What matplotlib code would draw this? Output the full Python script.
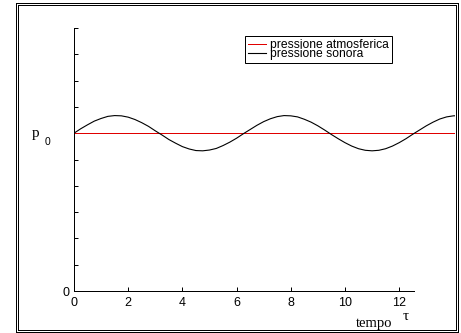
import matplotlib
matplotlib.use("Agg")
import matplotlib.pyplot as plt
from matplotlib.patches import Rectangle

# tempo (x) and sound pressure, step 0.25
tempo = [0.0, 0.25, 0.5, 0.75, 1.0, 1.25, 1.5, 1.75, 2.0, 2.25, 2.5, 2.75,
         3.0, 3.25, 3.5, 3.75, 4.0, 4.25, 4.5, 4.75, 5.0, 5.25, 5.5, 5.75,
         6.0, 6.25, 6.5, 6.75, 7.0, 7.25, 7.5, 7.75, 8.0, 8.25, 8.5, 8.75,
         9.0, 9.25, 9.5, 9.75, 10.0, 10.25, 10.5, 10.75, 11.0, 11.25, 11.5, 11.75,
         12.0, 12.25, 12.5, 12.75, 13.0, 13.25, 13.5, 13.75, 14.0, 14.25]
p_sonora = [6.00, 6.17, 6.32, 6.46, 6.56, 6.64, 6.67, 6.66, 6.61, 6.52, 6.40, 6.26,
            6.09, 5.93, 5.76, 5.62, 5.49, 5.40, 5.34, 5.33, 5.36, 5.42, 5.53, 5.66,
            5.81, 5.98, 6.14, 6.30, 6.44, 6.55, 6.63, 6.67, 6.66, 6.62, 6.53, 6.42,
            6.28, 6.12, 5.95, 5.79, 5.64, 5.51, 5.41, 5.35, 5.33, 5.35, 5.41, 5.51,
            5.64, 5.79, 5.96, 6.12, 6.28, 6.42, 6.54, 6.62, 6.66, 6.67]
p0 = 6.0
p_atm = [p0] * len(tempo)

x_ticks = [0, 2, 4, 6, 8, 10, 12]
y_ticks = [0, 1, 2, 3, 4, 5, 6, 7, 8, 9, 10]
labels = ['pressione atmosferica', 'pressione sonora']

W, H = 461, 333
LW = 0.72  # one pixel at 100 dpi
fig = plt.figure(figsize=(W / 100, H / 100), dpi=100)
fig.patch.set_facecolor('white')

# double frame around the picture
for (x0, y0, x1, y1) in [(15.5, 2.5, 457.5, 331.5), (17.5, 4.5, 455.5, 329.5)]:
    fig.patches.append(Rectangle((x0 / W, 1 - y1 / H), (x1 - x0) / W, (y1 - y0) / H,
                                 transform=fig.transFigure, fill=False,
                                 edgecolor='black', lw=LW, antialiased=False))

ax = fig.add_axes([74 / W, 42 / H, (455 - 74) / W, (305 - 42) / H])
ax.set_xlim(0, 14.06)
ax.set_ylim(0, 10)

l1, = ax.plot(tempo, p_atm, color='#e00000', lw=LW, antialiased=False)
l2, = ax.plot(tempo, p_sonora, color='black', lw=0.8)

for s in ['top', 'right']:
    ax.spines[s].set_visible(False)
for s in ['left', 'bottom']:
    ax.spines[s].set_linewidth(LW)
    ax.spines[s].set_antialiased(False)
ax.spines['bottom'].set_bounds(0, 12.55)

ax.set_xticks(x_ticks)
ax.set_xticklabels([str(v) for v in x_ticks], family='Liberation Sans', fontsize=9)
ax.set_yticks(y_ticks)
ax.set_yticklabels(['0'] + [''] * 10, family='Liberation Sans', fontsize=9)
ax.tick_params(direction='in', length=3, width=LW)
ax.tick_params(axis='x', pad=4)
ax.tick_params(axis='y', pad=3)

# p0 label on the left
ax.text(-42 / 27.1, p0, 'p', transform=ax.transData, family='Liberation Serif',
        fontsize=11, ha='left', va='center')
ax.text(-29 / 27.1, p0 - 0.35, '0', transform=ax.transData, family='Liberation Sans',
        fontsize=7.5, ha='left', va='center')

# axis title bottom right
fig.text(356 / W, 1 - 327 / H, 'tempo', family='Liberation Serif', fontsize=10.5,
         ha='left', va='baseline')
fig.text(403 / W, 1 - 320 / H, 'τ', family='Liberation Serif', fontsize=11,
         ha='left', va='baseline')

leg = fig.legend([l1, l2], labels, loc='upper left',
                 bbox_to_anchor=(245 / W, 1 - 36 / H), bbox_transform=fig.transFigure,
                 borderaxespad=0, fancybox=False, framealpha=1, edgecolor='black',
                 prop={'family': 'Liberation Sans', 'size': 8.7},
                 labelspacing=-0.25, handlelength=1.45, handletextpad=0.4,
                 borderpad=0.25)
leg.get_frame().set_linewidth(LW)

fig.savefig('out.png', dpi=100)
